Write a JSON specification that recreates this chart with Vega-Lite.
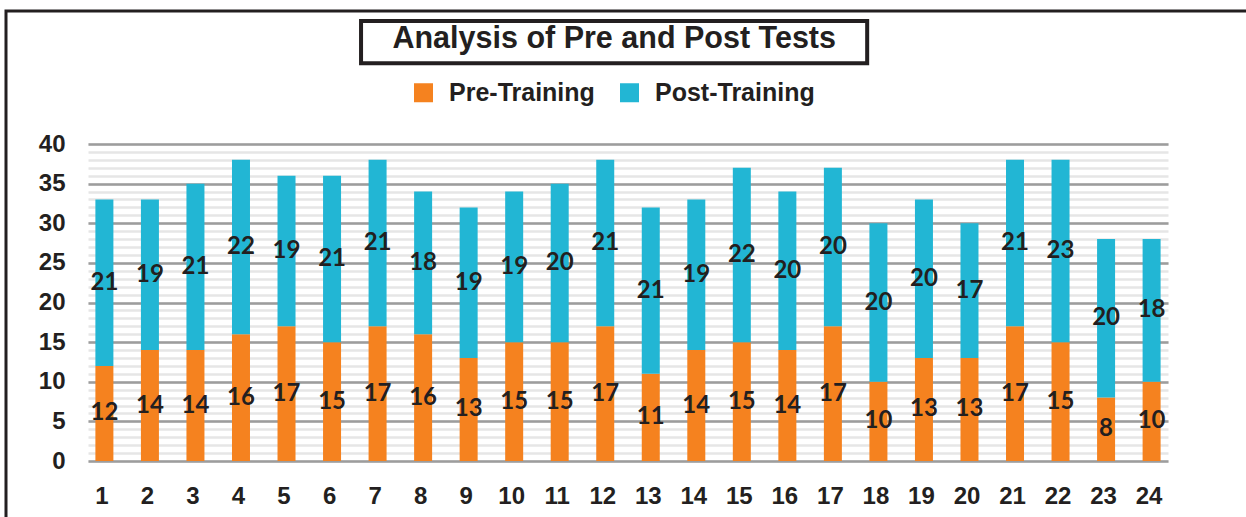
{
  "$schema": "https://vega.github.io/schema/vega-lite/v6.json",
  "width": 1080,
  "height": 317,
  "autosize": {"type": "none"},
  "padding": {"left": 88, "top": 144, "right": 78, "bottom": 56},
  "background": "white",
  "config": {"view": {"stroke": null}, "font": "Liberation Sans"},
  "title": {
    "text": "Analysis of Pre and Post Tests",
    "fontSize": 30.5,
    "fontWeight": "bold",
    "font": "Liberation Sans",
    "color": "#231f20",
    "anchor": "middle",
    "frame": "bounds",
    "offset": -68.5,
    "baseline": "alphabetic",
    "dx": -19
  },
  "resolve": {"axis": {"y": "independent"}},
  "data": {
    "values": [
      {"test": 1, "phase": "Pre-Training", "score": 12}, {"test": 1, "phase": "Post-Training", "score": 21},
      {"test": 2, "phase": "Pre-Training", "score": 14}, {"test": 2, "phase": "Post-Training", "score": 19},
      {"test": 3, "phase": "Pre-Training", "score": 14}, {"test": 3, "phase": "Post-Training", "score": 21},
      {"test": 4, "phase": "Pre-Training", "score": 16}, {"test": 4, "phase": "Post-Training", "score": 22},
      {"test": 5, "phase": "Pre-Training", "score": 17}, {"test": 5, "phase": "Post-Training", "score": 19},
      {"test": 6, "phase": "Pre-Training", "score": 15}, {"test": 6, "phase": "Post-Training", "score": 21},
      {"test": 7, "phase": "Pre-Training", "score": 17}, {"test": 7, "phase": "Post-Training", "score": 21},
      {"test": 8, "phase": "Pre-Training", "score": 16}, {"test": 8, "phase": "Post-Training", "score": 18},
      {"test": 9, "phase": "Pre-Training", "score": 13}, {"test": 9, "phase": "Post-Training", "score": 19},
      {"test": 10, "phase": "Pre-Training", "score": 15}, {"test": 10, "phase": "Post-Training", "score": 19},
      {"test": 11, "phase": "Pre-Training", "score": 15}, {"test": 11, "phase": "Post-Training", "score": 20},
      {"test": 12, "phase": "Pre-Training", "score": 17}, {"test": 12, "phase": "Post-Training", "score": 21},
      {"test": 13, "phase": "Pre-Training", "score": 11}, {"test": 13, "phase": "Post-Training", "score": 21},
      {"test": 14, "phase": "Pre-Training", "score": 14}, {"test": 14, "phase": "Post-Training", "score": 19},
      {"test": 15, "phase": "Pre-Training", "score": 15}, {"test": 15, "phase": "Post-Training", "score": 22},
      {"test": 16, "phase": "Pre-Training", "score": 14}, {"test": 16, "phase": "Post-Training", "score": 20},
      {"test": 17, "phase": "Pre-Training", "score": 17}, {"test": 17, "phase": "Post-Training", "score": 20},
      {"test": 18, "phase": "Pre-Training", "score": 10}, {"test": 18, "phase": "Post-Training", "score": 20},
      {"test": 19, "phase": "Pre-Training", "score": 13}, {"test": 19, "phase": "Post-Training", "score": 20},
      {"test": 20, "phase": "Pre-Training", "score": 13}, {"test": 20, "phase": "Post-Training", "score": 17},
      {"test": 21, "phase": "Pre-Training", "score": 17}, {"test": 21, "phase": "Post-Training", "score": 21},
      {"test": 22, "phase": "Pre-Training", "score": 15}, {"test": 22, "phase": "Post-Training", "score": 23},
      {"test": 23, "phase": "Pre-Training", "score": 8}, {"test": 23, "phase": "Post-Training", "score": 20},
      {"test": 24, "phase": "Pre-Training", "score": 10}, {"test": 24, "phase": "Post-Training", "score": 18}
    ]
  },
  "layer": [
    {
      "data": {"values": [{}]},
      "mark": {"type": "rect", "fill": "transparent", "stroke": "#231f20", "strokeWidth": 3},
      "encoding": {
        "x": {"datum": -1.161, "type": "quantitative"},
        "x2": {"datum": 26.39},
        "y": {
          "datum": 56.78,
          "type": "quantitative",
          "scale": {"domain": [0, 40], "nice": false, "padding": 0},
          "axis": {
            "orient": "left",
            "values": [0,1,2,3,4,5,6,7,8,9,10,11,12,13,14,15,16,17,18,19,20,21,22,23,24,25,26,27,28,29,30,31,32,33,34,35,36,37,38,39,40],
            "title": null,
            "grid": true,
            "gridColor": "#e6e6e6",
            "gridWidth": 2.5,
            "domain": false,
            "ticks": false,
            "labels": false
          }
        },
        "y2": {"datum": -9.97}
      }
    },
    {
      "mark": {"type": "bar", "size": 18},
      "encoding": {
        "x": {
          "field": "test",
          "type": "quantitative",
          "scale": {"domain": [0.64, 24.36], "nice": false, "zero": false, "padding": 0},
          "axis": {
            "values": [1,2,3,4,5,6,7,8,9,10,11,12,13,14,15,16,17,18,19,20,21,22,23,24],
            "title": null,
            "grid": false,
            "domain": false,
            "ticks": false,
            "tickSize": 0,
            "format": "d",
            "labelFontSize": 24,
            "labelFontWeight": "bold",
            "labelFont": "Liberation Sans",
            "labelColor": "#231f20",
            "labelPadding": 23,
            "labelOverlap": false,
            "labelFlush": false,
            "labelOffset": -3
          }
        },
        "y": {
          "field": "score",
          "type": "quantitative",
          "stack": "zero",
          "scale": {"domain": [0, 40], "nice": false, "padding": 0},
          "axis": {
            "orient": "left",
            "values": [0, 5, 10, 15, 20, 25, 30, 35, 40],
            "title": null,
            "grid": true,
            "gridColor": "#9d9d9d",
            "gridWidth": 2.5,
            "domain": false,
            "ticks": false,
            "tickSize": 0,
            "labelFontSize": 24,
            "labelFontWeight": "bold",
            "labelFont": "Liberation Sans",
            "labelColor": "#231f20",
            "labelPadding": 23,
            "labelOverlap": false,
            "labelFlush": false
          }
        },
        "color": {
          "field": "phase",
          "type": "nominal",
          "scale": {"domain": ["Pre-Training", "Post-Training"], "range": ["#f5821f", "#22b6d4"]},
          "legend": {
            "orient": "none",
            "legendX": 323,
            "legendY": -64,
            "direction": "horizontal",
            "title": null,
            "symbolType": "square",
            "symbolSize": 361,
            "symbolStrokeWidth": 0,
            "symbolOpacity": 1,
            "labelFontSize": 25,
            "labelFontWeight": "bold",
            "labelFont": "Liberation Sans",
            "labelColor": "#231f20",
            "labelOffset": 13,
            "labelLimit": 300,
            "columnPadding": 22,
            "padding": 0
          }
        },
        "order": {"field": "phase", "sort": "descending"}
      }
    },
    {
      "mark": {"type": "text", "font": "Lato", "fontSize": 24, "fontWeight": "bold", "color": "#231f20"},
      "encoding": {
        "x": {"field": "test", "type": "quantitative"},
        "y": {"field": "score", "type": "quantitative", "stack": "zero", "bandPosition": 0.5, "axis": null},
        "detail": {"field": "phase"},
        "order": {"field": "phase", "sort": "descending"},
        "text": {"field": "score", "type": "quantitative"}
      }
    },
    {
      "data": {"values": [{}]},
      "mark": {"type": "rect", "fill": "transparent", "stroke": "#231f20", "strokeWidth": 4},
      "encoding": {
        "x": {"datum": 6.637, "type": "quantitative"},
        "x2": {"datum": 17.753},
        "y": {"datum": 55.52, "type": "quantitative", "axis": null},
        "y2": {"datum": 50.18}
      }
    }
  ]
}
